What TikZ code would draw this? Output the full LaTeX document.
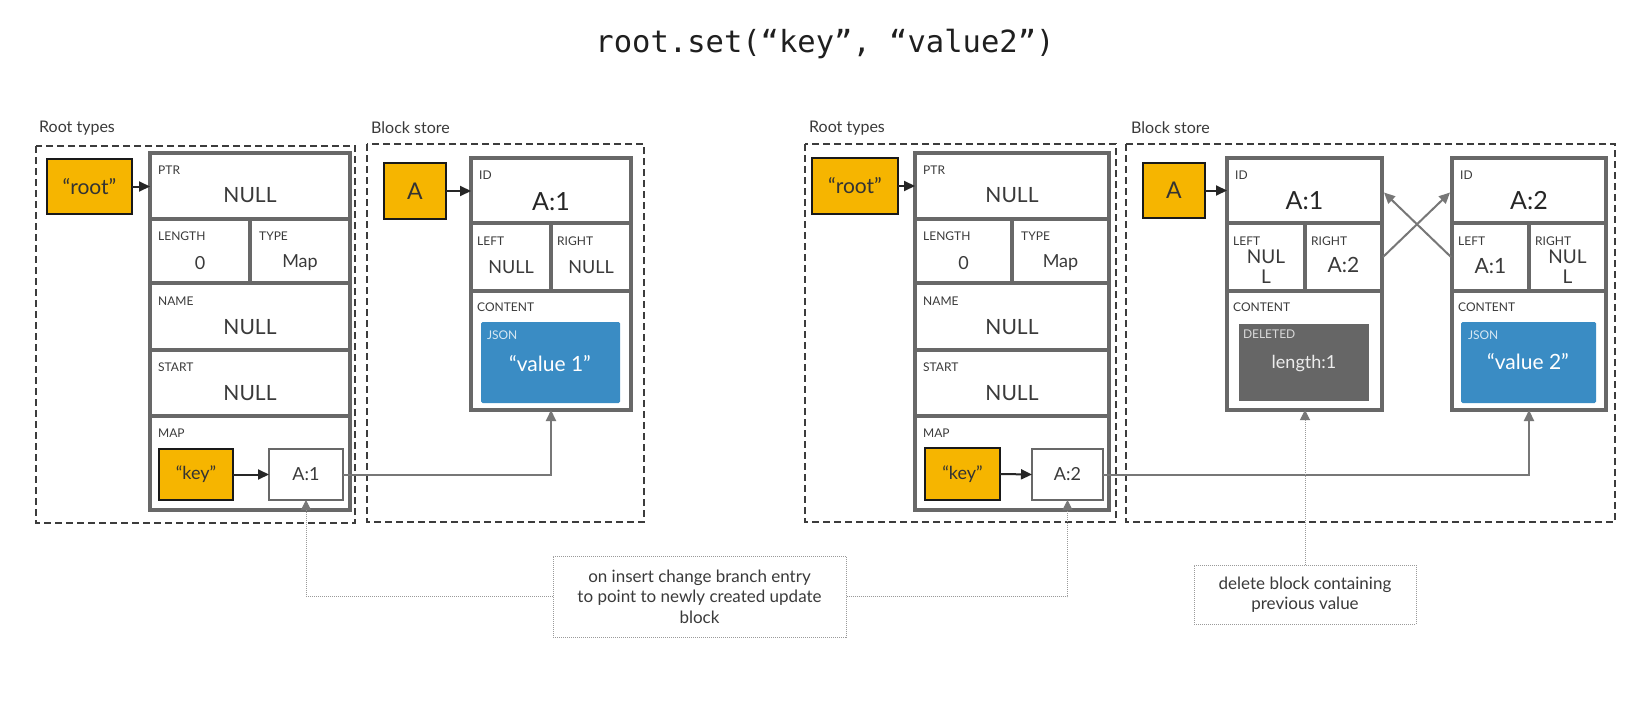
\documentclass[tikz,border=0pt]{standalone}
\usepackage{fontspec}
\setmainfont{Lato}
\newfontfamily\titlefont{DejaVu Sans Mono}
\usetikzlibrary{arrows.meta}
\definecolor{cellgray}{HTML}{686868}
\definecolor{txt}{HTML}{3A3A3A}
\definecolor{yel}{HTML}{F6B500}
\definecolor{jsonblue}{HTML}{3A8CC4}
\definecolor{delgray}{HTML}{666666}
\definecolor{agray}{HTML}{777777}
\definecolor{dashcol}{HTML}{3C3C3C}
\definecolor{dotcol}{HTML}{9A9A9A}
\tikzset{
  cellbox/.style={draw=cellgray, line width=4pt, inner sep=0pt, outer sep=0pt, anchor=north west, fill=white},
  lbl/.style={anchor=north west, inner sep=0pt, font=\fontsize{12}{14}\selectfont, text=txt},
  val/.style={inner sep=0pt, font=\fontsize{21}{24}\selectfont, text=txt},
  sval/.style={inner sep=0pt, font=\fontsize{18}{20}\selectfont, text=txt},
  bigval/.style={inner sep=0pt, font=\fontsize{25}{28}\selectfont, text=black!85},
  ybox/.style={draw=black!90, line width=1.8pt, fill=yel, inner sep=0pt, outer sep=0pt, text=black!80},
  wbox/.style={draw=cellgray, line width=2.5pt, fill=white, inner sep=0pt, outer sep=0pt, text=txt, font=\fontsize{18}{20}\selectfont},
  region/.style={draw=dashcol, line width=1.2pt, dash pattern=on 7pt off 4pt},
  sec/.style={anchor=west, inner sep=0pt, font=\fontsize{16}{18}\selectfont, text=txt},
  barrow/.style={draw=black!85, line width=2pt, -{Triangle[length=11pt,width=10pt]}},
  garrow/.style={draw=agray, line width=2pt, -{Triangle[length=11pt,width=10pt]}},
  dotline/.style={draw=dotcol, line width=1pt, dash pattern=on 1pt off 1pt, -{Triangle[length=10pt,width=10pt,color=agray]}},
  callout/.style={draw=dotcol, line width=1pt, dash pattern=on 1pt off 1pt, align=center, inner sep=0pt, text=txt, font=\fontsize{17}{20.5}\selectfont},
}
\newcommand\mkcell[5]{\node[cellbox, minimum width={(#4-#2)*1pt}, minimum height={(#5-#3)*1pt}] (#1) at (#2,#3) {};}
\newcommand\rootstruct[3]{%
  \pgfmathsetmacro\xmid{(#2+#3)/2}
  \mkcell{#1ptr}{#2}{153}{#3}{219}
  \mkcell{#1len}{#2}{219}{\xmid}{283}
  \mkcell{#1type}{\xmid}{219}{#3}{283}
  \mkcell{#1name}{#2}{283}{#3}{350}
  \mkcell{#1start}{#2}{350}{#3}{416}
  \mkcell{#1map}{#2}{416}{#3}{510}
  \node[lbl] (#1ptrl) at ([shift={(8pt,-13pt)}]#1ptr.north west) {PTR};
  \node[val] (#1ptrv) at ([yshift=-9pt]#1ptr.center) {NULL};
  \node[lbl] (#1lenl) at ([shift={(8pt,-13pt)}]#1len.north west) {LENGTH};
  \node[sval] (#1lenv) at ([yshift=-12pt]#1len.center) {0};
  \node[lbl] (#1typel) at ([shift={(9pt,-13pt)}]#1type.north west) {TYPE};
  \node[sval] (#1typev) at ([yshift=-12pt]#1type.center) {Map};
  \node[lbl] (#1namel) at ([shift={(8pt,-14pt)}]#1name.north west) {NAME};
  \node[val] (#1namev) at ([yshift=-11pt]#1name.center) {NULL};
  \node[lbl] (#1startl) at ([shift={(8pt,-13pt)}]#1start.north west) {START};
  \node[val] (#1startv) at ([yshift=-10pt]#1start.center) {NULL};
  \node[lbl] (#1mapl) at ([shift={(8pt,-13pt)}]#1map.north west) {MAP};
}
\newcommand\blockcells[4]{% prefix x0 xdiv x1
  \mkcell{#1id}{#2}{158}{#4}{223}
  \mkcell{#1left}{#2}{223}{#3}{291}
  \mkcell{#1right}{#3}{223}{#4}{291}
  \mkcell{#1content}{#2}{291}{#4}{410}
  \node[lbl] (#1idl) at ([shift={(8pt,-13pt)}]#1id.north west) {ID};
  \node[lbl] (#1leftl) at ([shift={(6pt,-14pt)}]#1left.north west) {LEFT};
  \node[lbl] (#1rightl) at ([shift={(6pt,-14pt)}]#1right.north west) {RIGHT};
  \node[lbl] (#1contentl) at ([shift={(6pt,-12pt)}]#1content.north west) {CONTENT};
}
\begin{document}
\begin{tikzpicture}[x=1pt,y=-1pt]
\useasboundingbox[fill=white] (0,0) rectangle (1650,717);

% title
\node[font=\titlefont\fontsize{30.5}{33}\selectfont, text=black!88, inner sep=0pt] (title) at (825,44) {root.set(“key”, “value2”)};

% regions
\draw[region] (36,146) rectangle (355,523);
\draw[region] (367,144) rectangle (644,522);
\draw[region] (805,144) rectangle (1116,522);
\draw[region] (1126,144) rectangle (1615,522);
\node[sec] (lrt) at (39,128) {Root types};
\node[sec] (lbs) at (371,128) {Block store};
\node[sec] (rrt) at (809,128) {Root types};
\node[sec] (rbs) at (1131,128) {Block store};

% ---------- left root struct
\rootstruct{L}{150}{350}
\node[ybox, minimum width=85pt, minimum height=55pt, font=\fontsize{21}{24}\selectfont] (Lroot) at (89.5,186.5) {“root”};
\node[ybox, minimum width=74pt, minimum height=51pt, font=\fontsize{18}{20}\selectfont] (Lkey) at (196,474.5) {“key”};
\node[wbox, minimum width=74pt, minimum height=51pt] (La1) at (306,474.5) {A:1};
\draw[barrow] (Lroot.east) -- (Lroot.east -| Lptr.west);
\draw[barrow] (Lkey.east) -- (La1.west);

% ---------- left block store
\blockcells{Lb}{471}{551}{631}
\node[bigval] (Lbidv) at ([yshift=-11pt]Lbid.center) {A:1};
\node[sval] (Lbleftv) at ([yshift=-10pt]Lbleft.center) {NULL};
\node[sval] (Lbrightv) at ([yshift=-10pt]Lbright.center) {NULL};
\node[fill=jsonblue, rounded corners=1.5pt, minimum width=139pt, minimum height=81pt, inner sep=0pt] (Ljson) at (550.5,362.5) {};
\node[anchor=north west, inner sep=0pt, font=\fontsize{12}{14}\selectfont, text=white!80!jsonblue] (Ljsonl) at ([shift={(6pt,-9pt)}]Ljson.north west) {JSON};
\node[inner sep=0pt, font=\fontsize{21}{24}\selectfont, text=white] (Ljsonv) at (550,364) {“value 1”};
\node[ybox, minimum width=62pt, minimum height=56pt, font=\fontsize{23}{26}\selectfont] (LA) at (415,191) {A};
\draw[barrow] (LA.east) -- (LA.east -| Lbid.west);
\draw[garrow] (La1.east) -| (Lbcontent.south);

% ---------- right root struct
\rootstruct{R}{915}{1109}
\node[ybox, minimum width=86pt, minimum height=56pt, font=\fontsize{21}{24}\selectfont] (Rroot) at (855,186) {“root”};
\node[ybox, minimum width=75pt, minimum height=52pt, font=\fontsize{18}{20}\selectfont] (Rkey) at (962.5,474) {“key”};
\node[wbox, minimum width=71pt, minimum height=51pt] (Ra2) at (1067.5,474.5) {A:2};
\draw[barrow] (Rroot.east) -- (Rroot.east -| Rptr.west);
\draw[barrow] (Rkey.east) -- (Ra2.west);

% ---------- right block store: A:1
\blockcells{Rb}{1227}{1305}{1382}
\node[bigval] (Rbidv) at ([yshift=-10pt]Rbid.center) {A:1};
\node[sval, align=center, font=\fontsize{19}{20}\selectfont] (Rbleftv) at ([yshift=-10pt]Rbleft.center) {NUL\\L};
\node[val] (Rbrightv) at ([yshift=-8pt]Rbright.center) {A:2};
\node[fill=delgray, minimum width=130pt, minimum height=77pt, inner sep=0pt] (Rdel) at (1304,362.5) {};
\node[anchor=north west, inner sep=0pt, font=\fontsize{12}{14}\selectfont, text=white!75!delgray] (Rdell) at ([shift={(4pt,-6pt)}]Rdel.north west) {DELETED};
\node[inner sep=0pt, font=\fontsize{18}{20}\selectfont, text=white!88!delgray] (Rdelv) at (1304,364) {length:1};
\node[ybox, minimum width=62pt, minimum height=55pt, font=\fontsize{23}{26}\selectfont] (RA) at (1174,190.5) {A};
\draw[barrow] (RA.east) -- (RA.east -| Rbid.west);

% ---------- right block store: A:2
\blockcells{Rc}{1452}{1529}{1606}
\node[bigval] (Rcidv) at ([yshift=-10pt]Rcid.center) {A:2};
\node[val] (Rcleftv) at ([yshift=-9pt]Rcleft.center) {A:1};
\node[sval, align=center, font=\fontsize{19}{20}\selectfont] (Rcrightv) at ([yshift=-10pt]Rcright.center) {NUL\\L};
\node[fill=jsonblue, rounded corners=1.5pt, minimum width=135pt, minimum height=81pt, inner sep=0pt] (Rjson) at (1528.5,362.5) {};
\node[anchor=north west, inner sep=0pt, font=\fontsize{12}{14}\selectfont, text=white!80!jsonblue] (Rjsonl) at ([shift={(7pt,-9pt)}]Rjson.north west) {JSON};
\node[inner sep=0pt, font=\fontsize{21}{24}\selectfont, text=white] (Rjsonv) at (1528,362) {“value 2”};

% cross links
\draw[garrow] ([xshift=1pt]Rbright.east) -- ([shift={(-2pt,-2pt)}]Rcid.west);
\draw[garrow] ([xshift=-1pt]Rcleft.west) -- ([shift={(2pt,-2pt)}]Rbid.east);
\draw[garrow] (Ra2.east) -| (Rccontent.south);

% callouts
\node[callout, minimum width=293pt, minimum height=81pt] (call1) at (699.5,596.5) {on insert change branch entry\\to point to newly created update\\block};
\node[callout, minimum width=222pt, minimum height=59pt] (call2) at (1305,594.5) {delete block containing\\previous value};
\draw[dotline] (call1.west) -| (La1.south);
\draw[dotline] (call1.east) -| (Ra2.south);
\draw[dotline] (call2.north) -- (call2.north |- Rbcontent.south);
\end{tikzpicture}
\end{document}
